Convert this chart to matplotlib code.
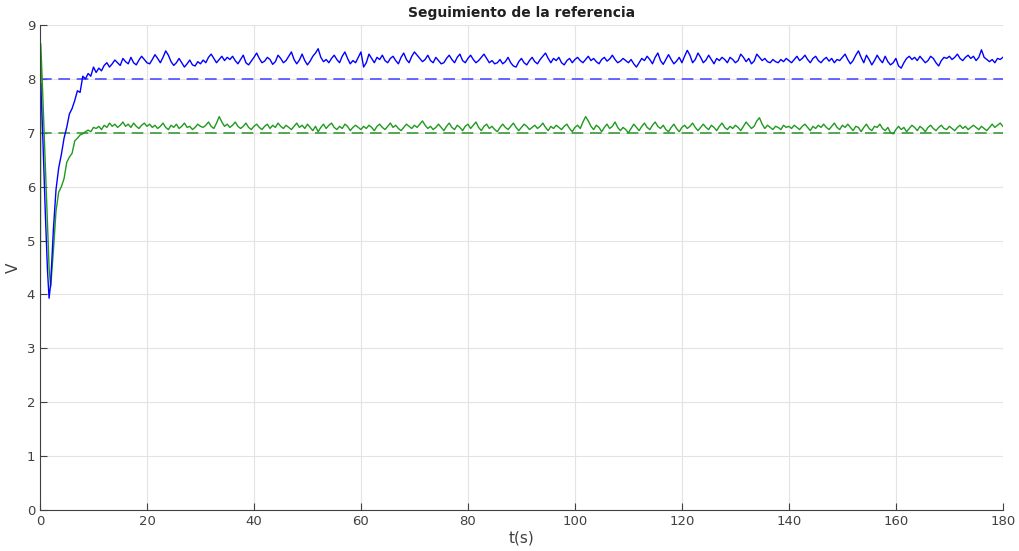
import numpy as np
import matplotlib.pyplot as plt

# time grid: fine samples during the start-up transient, then every 0.5 s
t_head = [0, 0.15, 0.5, 1.0, 1.4, 1.7, 2.0, 2.5, 3.0, 3.5, 4.0, 4.5, 5.0,
          5.5, 6.0, 6.5, 7.0, 7.5, 8.0, 8.5, 9.0, 9.5, 10.0]
t_tail = np.arange(10.5, 180.01, 0.5)

# output 1 (blue), reference 8 V
v1_head = [7.95, 7.9, 7.0, 5.5, 4.45, 3.93, 4.2, 5.2, 5.95, 6.35, 6.6, 6.9, 7.1,
           7.35, 7.45, 7.6, 7.78, 7.75, 8.05, 8.0, 8.1, 8.05, 8.22]
v1_tail = [
    8.12, 8.2, 8.15, 8.25, 8.3, 8.22, 8.28, 8.35, 8.3, 8.25, 8.38, 8.32, 8.28, 8.4, 8.3, 8.26, 8.35, 8.42, 8.36, 8.3,
    8.28, 8.36, 8.45, 8.38, 8.3, 8.4, 8.52, 8.44, 8.32, 8.25, 8.3, 8.38, 8.3, 8.22, 8.28, 8.35, 8.26, 8.24, 8.32, 8.28,
    8.35, 8.3, 8.4, 8.46, 8.38, 8.3, 8.36, 8.42, 8.34, 8.4, 8.36, 8.42, 8.34, 8.28, 8.36, 8.44, 8.3, 8.26, 8.33, 8.4,
    8.48, 8.38, 8.3, 8.33, 8.4, 8.36, 8.27, 8.32, 8.44, 8.38, 8.3, 8.34, 8.42, 8.5, 8.36, 8.28, 8.35, 8.46, 8.34, 8.26,
    8.33, 8.42, 8.48, 8.56, 8.4, 8.32, 8.36, 8.3, 8.38, 8.44, 8.36, 8.3, 8.42, 8.5, 8.38, 8.28, 8.34, 8.3, 8.4, 8.5,
    8.22, 8.3, 8.46, 8.38, 8.3, 8.4, 8.36, 8.44, 8.34, 8.3, 8.38, 8.42, 8.34, 8.28, 8.4, 8.48, 8.36, 8.3, 8.42, 8.5,
    8.44, 8.38, 8.32, 8.36, 8.44, 8.34, 8.3, 8.4, 8.34, 8.28, 8.3, 8.38, 8.44, 8.36, 8.3, 8.4, 8.46, 8.34, 8.3, 8.38,
    8.44, 8.36, 8.3, 8.34, 8.4, 8.46, 8.38, 8.3, 8.34, 8.28, 8.3, 8.36, 8.28, 8.32, 8.4, 8.3, 8.24, 8.22, 8.32, 8.38,
    8.3, 8.26, 8.34, 8.4, 8.32, 8.28, 8.36, 8.42, 8.48, 8.38, 8.3, 8.38, 8.34, 8.4, 8.3, 8.26, 8.34, 8.38, 8.3, 8.36,
    8.4, 8.34, 8.3, 8.36, 8.42, 8.34, 8.38, 8.32, 8.28, 8.36, 8.4, 8.33, 8.37, 8.44, 8.36, 8.3, 8.33, 8.38, 8.34, 8.3,
    8.36, 8.28, 8.22, 8.3, 8.38, 8.34, 8.42, 8.36, 8.28, 8.4, 8.48, 8.34, 8.27, 8.36, 8.45, 8.36, 8.28, 8.33, 8.4, 8.3,
    8.42, 8.53, 8.44, 8.3, 8.36, 8.48, 8.4, 8.3, 8.35, 8.44, 8.36, 8.28, 8.38, 8.34, 8.4, 8.36, 8.3, 8.4, 8.36, 8.3,
    8.34, 8.46, 8.4, 8.32, 8.38, 8.28, 8.33, 8.46, 8.4, 8.34, 8.38, 8.32, 8.3, 8.36, 8.32, 8.3, 8.36, 8.32, 8.38, 8.34,
    8.3, 8.36, 8.42, 8.34, 8.38, 8.44, 8.36, 8.3, 8.38, 8.42, 8.34, 8.3, 8.36, 8.4, 8.33, 8.38, 8.3, 8.36, 8.34, 8.4,
    8.46, 8.36, 8.28, 8.34, 8.44, 8.52, 8.4, 8.3, 8.44, 8.36, 8.26, 8.34, 8.44, 8.36, 8.3, 8.42, 8.32, 8.26, 8.3, 8.38,
    8.24, 8.2, 8.3, 8.38, 8.42, 8.36, 8.4, 8.34, 8.42, 8.36, 8.3, 8.34, 8.42, 8.38, 8.3, 8.24, 8.34, 8.4, 8.38, 8.42,
    8.36, 8.4, 8.46, 8.38, 8.34, 8.4, 8.44, 8.38, 8.42, 8.34, 8.4, 8.54, 8.4, 8.36, 8.32, 8.36, 8.3, 8.38, 8.36, 8.4,
]

# output 2 (green), reference 7 V
v2_head = [0.0, 8.65, 7.75, 6.4, 5.3, 4.5, 4.14, 4.8, 5.55, 5.9, 6.0, 6.15, 6.45,
           6.55, 6.62, 6.85, 6.9, 6.96, 6.98, 7.02, 7.05, 7.02, 7.1]
v2_tail = [
    7.08, 7.12, 7.06, 7.14, 7.1, 7.18, 7.12, 7.16, 7.1, 7.14, 7.2, 7.12, 7.16, 7.1, 7.18, 7.12, 7.08, 7.14, 7.18, 7.12,
    7.16, 7.1, 7.14, 7.08, 7.12, 7.18, 7.1, 7.06, 7.14, 7.1, 7.16, 7.08, 7.12, 7.18, 7.1, 7.12, 7.06, 7.1, 7.16, 7.12,
    7.1, 7.14, 7.2, 7.12, 7.08, 7.18, 7.3, 7.2, 7.12, 7.16, 7.1, 7.14, 7.2, 7.12, 7.08, 7.12, 7.18, 7.1, 7.06, 7.12,
    7.16, 7.1, 7.06, 7.12, 7.16, 7.08, 7.14, 7.1, 7.18, 7.12, 7.08, 7.14, 7.1, 7.06, 7.12, 7.18, 7.1, 7.14, 7.08, 7.16,
    7.1, 7.04, 7.12, 7.02, 7.1, 7.16, 7.08, 7.14, 7.18, 7.1, 7.06, 7.12, 7.08, 7.16, 7.12, 7.04, 7.1, 7.14, 7.1, 7.06,
    7.12, 7.08, 7.14, 7.1, 7.04, 7.12, 7.16, 7.1, 7.06, 7.12, 7.18, 7.1, 7.14, 7.08, 7.04, 7.1, 7.16, 7.12, 7.08, 7.14,
    7.1, 7.16, 7.22, 7.14, 7.08, 7.12, 7.06, 7.1, 7.16, 7.1, 7.04, 7.12, 7.18, 7.1, 7.06, 7.14, 7.1, 7.04, 7.12, 7.16,
    7.08, 7.14, 7.2, 7.1, 7.04, 7.12, 7.16, 7.08, 7.12, 7.06, 7.02, 7.1, 7.16, 7.1, 7.06, 7.12, 7.18, 7.1, 7.04, 7.1,
    7.16, 7.12, 7.06, 7.1, 7.14, 7.08, 7.12, 7.18, 7.1, 7.04, 7.12, 7.08, 7.14, 7.1, 7.06, 7.12, 7.16, 7.08, 7.02, 7.1,
    7.14, 7.08, 7.2, 7.3, 7.22, 7.12, 7.06, 7.14, 7.1, 7.02, 7.1, 7.16, 7.08, 7.12, 7.2, 7.1, 7.04, 7.1, 7.06, 7.0,
    7.08, 7.16, 7.1, 7.04, 7.12, 7.18, 7.1, 7.06, 7.14, 7.2, 7.12, 7.08, 7.14, 7.06, 7.02, 7.1, 7.16, 7.08, 7.02, 7.1,
    7.14, 7.08, 7.12, 7.18, 7.1, 7.04, 7.1, 7.16, 7.1, 7.06, 7.14, 7.1, 7.04, 7.12, 7.18, 7.1, 7.06, 7.12, 7.08, 7.14,
    7.1, 7.04, 7.12, 7.2, 7.14, 7.08, 7.12, 7.22, 7.28, 7.16, 7.08, 7.14, 7.1, 7.06, 7.12, 7.1, 7.06, 7.14, 7.1, 7.12,
    7.08, 7.14, 7.1, 7.06, 7.12, 7.16, 7.1, 7.04, 7.12, 7.08, 7.14, 7.1, 7.16, 7.1, 7.06, 7.12, 7.18, 7.1, 7.06, 7.14,
    7.1, 7.16, 7.1, 7.04, 7.12, 7.1, 7.02, 7.1, 7.16, 7.08, 7.04, 7.12, 7.1, 7.16, 7.08, 7.04, 7.1, 7.0, 6.98, 7.06,
    7.12, 7.06, 7.1, 7.02, 7.08, 7.14, 7.1, 7.04, 7.12, 7.08, 7.02, 7.1, 7.14, 7.08, 7.04, 7.1, 7.14, 7.08, 7.06, 7.12,
    7.08, 7.04, 7.1, 7.14, 7.08, 7.12, 7.06, 7.1, 7.14, 7.1, 7.06, 7.12, 7.08, 7.04, 7.1, 7.16, 7.1, 7.14, 7.18, 7.12,
]

ref1 = 8
ref2 = 7

t = np.concatenate([t_head, t_tail])
v1 = np.concatenate([v1_head, v1_tail])
v2 = np.concatenate([v2_head, v2_tail])

fig = plt.figure(figsize=(10.2, 5.51), dpi=100)
ax = fig.add_axes([0.0392, 0.0744, 0.944, 0.8802])

ax.axhline(ref1, color="#4d4dff", lw=1.2, ls=(0, (7, 4)))
ax.axhline(ref2, color="#3a9a3a", lw=1.2, ls=(0, (7, 4)))
ax.plot(t, v2, color="#1f9a1f", lw=1.0)
ax.plot(t, v1, color="#0000ff", lw=1.0)

ax.set_xlim(0, 180)
ax.set_ylim(0, 9)
ax.set_xticks(np.arange(0, 181, 20))
ax.set_yticks(np.arange(0, 10, 1))
ax.grid(True, color="#e3e3e3", lw=0.8)
ax.set_axisbelow(True)
for s in ["top", "right"]:
    ax.spines[s].set_visible(False)
for s in ["left", "bottom"]:
    ax.spines[s].set_color("#404040")
ax.tick_params(direction="in", length=5, colors="#404040", labelsize=9.5,
               labelcolor="#404040")

ax.set_title("Seguimiento de la referencia", fontsize=10, fontweight="bold",
             color="#202020", pad=6)
ax.set_xlabel("t(s)", fontsize=11, color="#404040", labelpad=2)
ax.set_ylabel("V", fontsize=11, color="#404040", labelpad=4)

fig.savefig("out.png", dpi=100)
